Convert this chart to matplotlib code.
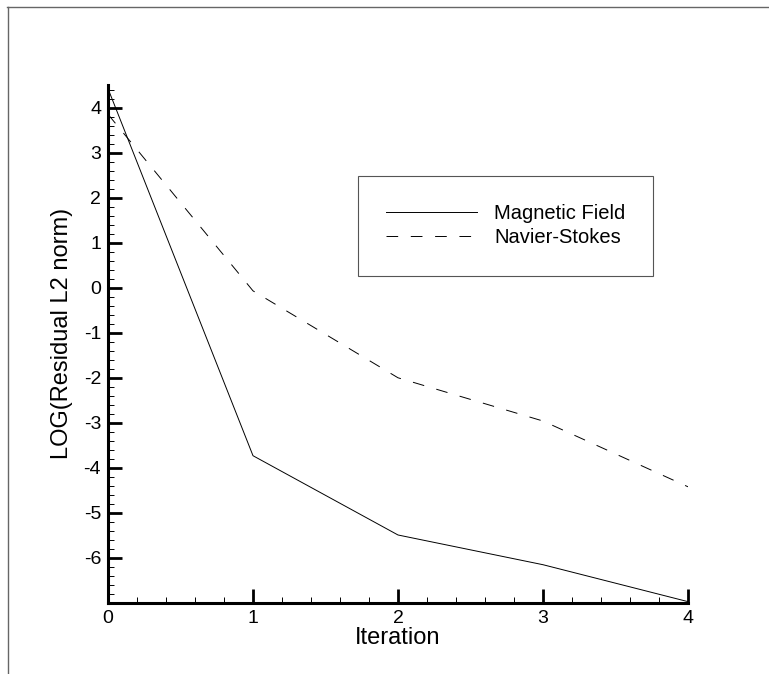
import numpy as np
import matplotlib
matplotlib.use("Agg")
import matplotlib.pyplot as plt
from matplotlib.lines import Line2D
from matplotlib.ticker import MultipleLocator

plt.rcParams['font.family'] = ['Liberation Sans', 'DejaVu Sans']
plt.rcParams['axes.unicode_minus'] = False

# residual history
iterations = [0, 1, 2, 3, 4]
magnetic = [4.42, -3.73, -5.49, -6.15, -6.97]
navier = [3.85, -0.07, -2.0, -2.96, -4.42]
y_major = [-6, -5, -4, -3, -2, -1, 0, 1, 2, 3, 4]

fig = plt.figure(figsize=(7.69, 6.74), dpi=100)
ax = fig.add_axes([108 / 769, 71 / 674, 580 / 769, 518 / 674])

ax.plot(iterations, magnetic, color='black', lw=0.7, label='Magnetic Field')
ax.plot(iterations, navier, color='black', lw=0.7, linestyle=(0, (12, 13)),
        label='Navier-Stokes')

ax.set_xlim(0, 4)
ax.set_ylim(-7, 4.5)
ax.xaxis.set_major_locator(MultipleLocator(1))
ax.xaxis.set_minor_locator(MultipleLocator(0.2))
ax.set_yticks(y_major)
ax.yaxis.set_minor_locator(MultipleLocator(0.2))

for s in ['top', 'right']:
    ax.spines[s].set_visible(False)
for s in ['left', 'bottom']:
    ax.spines[s].set_linewidth(2.2)

ax.tick_params(which='major', direction='in', length=10, width=2, labelsize=14,
               pad=5)
ax.tick_params(which='minor', direction='in', length=4.5, width=0.7)

ax.set_xlabel('Iteration', fontsize=17, labelpad=0)
ax.set_ylabel('LOG(Residual L2 norm)', fontsize=17)
ax.yaxis.set_label_coords(-0.06, 0.52)

leg = ax.legend(loc='upper left', bbox_to_anchor=(0.431, 0.824),
                borderaxespad=0, fontsize=14.5, handlelength=4.5,
                handletextpad=0.85, borderpad=1.4, labelspacing=0.25,
                fancybox=False, framealpha=1)
leg.get_frame().set_edgecolor('#555555')
leg.get_frame().set_linewidth(0.8)

# outer page frame (only top and left edges are inside the picture)
fig.add_artist(Line2D([7 / 769, 1], [1 - 7 / 674, 1 - 7 / 674],
                      color='#666666', lw=1))
fig.add_artist(Line2D([8 / 769, 8 / 769], [0, 1 - 7 / 674],
                      color='#666666', lw=1))

fig.savefig('out.png', dpi=100)
